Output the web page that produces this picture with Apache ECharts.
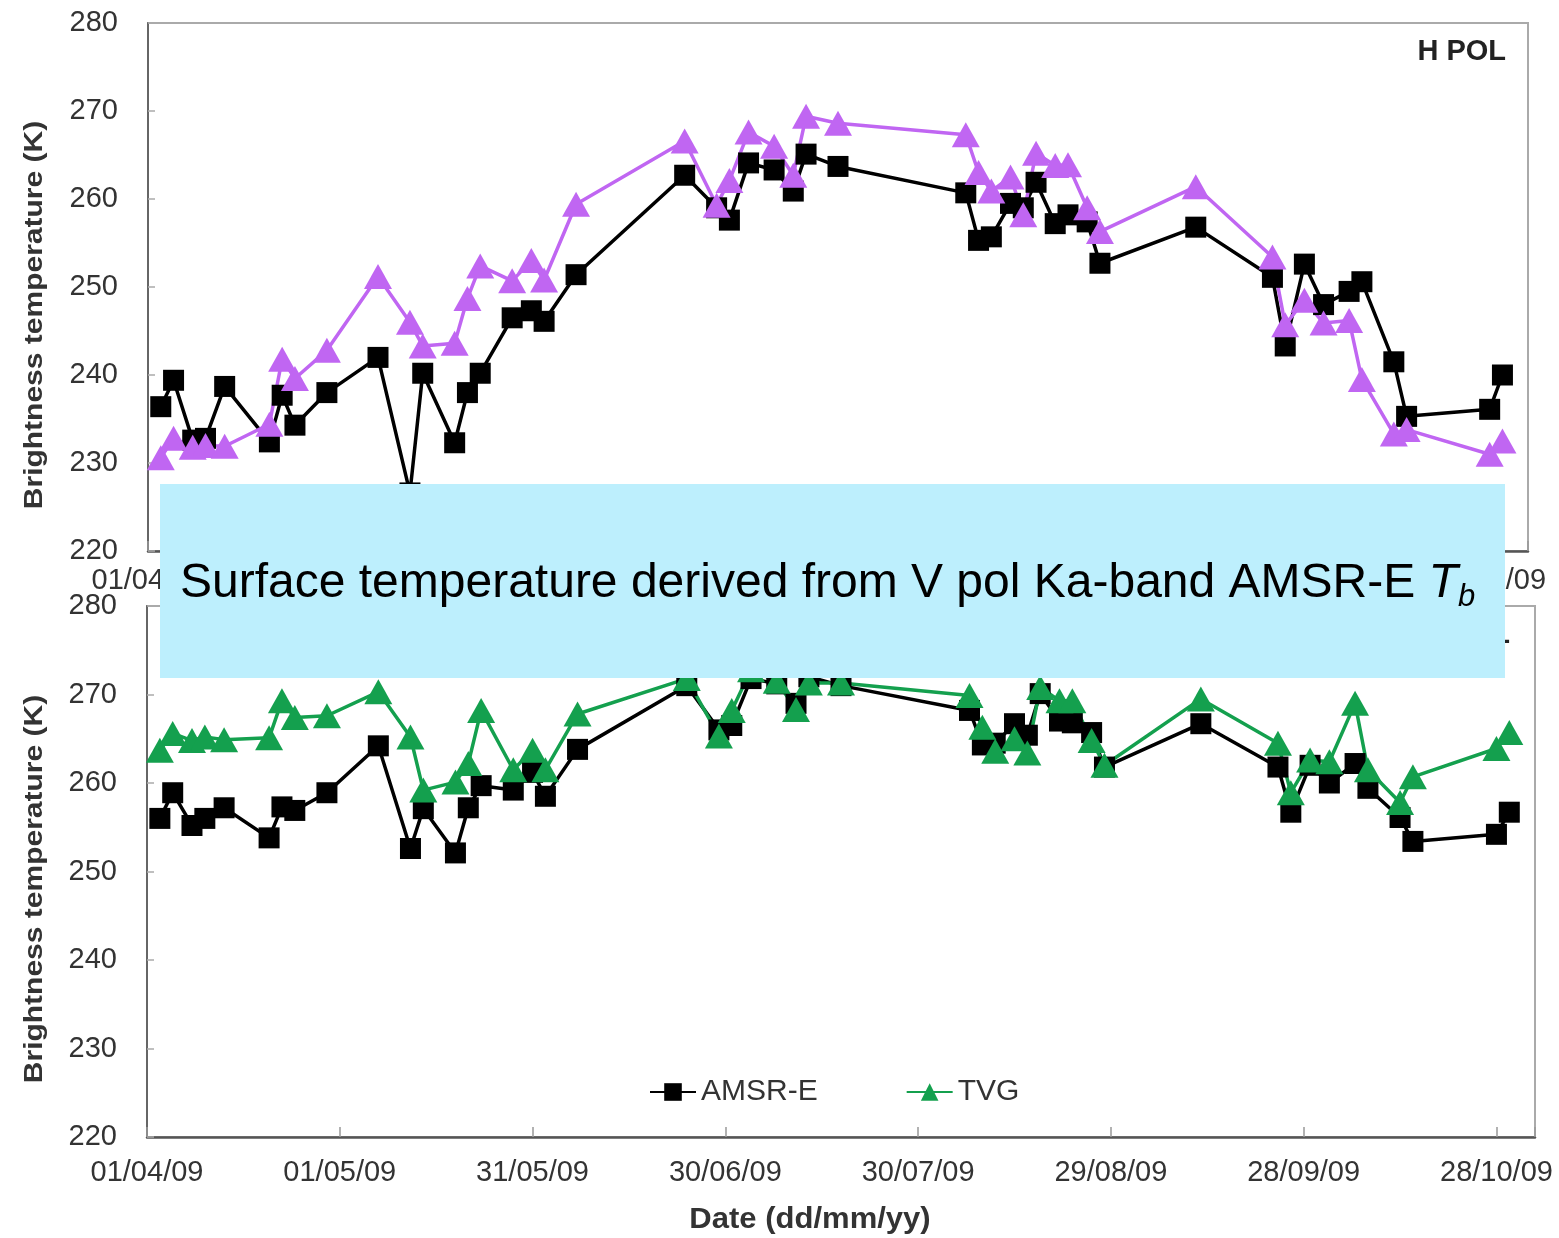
<!DOCTYPE html>
<html>
<head>
<meta charset="utf-8">
<script src="https://cdn.jsdelivr.net/npm/echarts@6/dist/echarts.min.js"></script>
<style>
  html, body { margin: 0; padding: 0; background: #ffffff; }
  #chart { width: 1559px; height: 1238px; }
</style>
</head>
<body>
<div id="chart"></div>
<script>
// Observation dates (AMSR-E overpasses, 2009)
const dates = [
  '2009-04-03','2009-04-05','2009-04-08','2009-04-10','2009-04-13','2009-04-20','2009-04-22','2009-04-24','2009-04-29',
  '2009-05-07','2009-05-12','2009-05-14','2009-05-19','2009-05-21','2009-05-23','2009-05-28','2009-05-31',
  '2009-06-02','2009-06-07','2009-06-24','2009-06-29',
  '2009-07-01','2009-07-04','2009-07-08','2009-07-11','2009-07-13','2009-07-18',
  '2009-08-07','2009-08-09','2009-08-11','2009-08-14','2009-08-16','2009-08-18','2009-08-21','2009-08-23','2009-08-26','2009-08-28',
  '2009-09-12','2009-09-24','2009-09-26','2009-09-29',
  '2009-10-02','2009-10-06','2009-10-08','2009-10-13','2009-10-15','2009-10-28','2009-10-30'
];

// H polarisation brightness temperature (K)
const hAmsr = [
  236.4, 239.4, 232.6, 232.8, 238.7, 232.4, 237.7, 234.3, 238.0,
  242.0, 226.6, 240.2, 232.3, 238.0, 240.2, 246.5, 247.3,
  246.1, 251.4, 262.7, 259.0,
  257.6, 264.1, 263.3, 260.9, 265.1, 263.7,
  260.7, 255.3, 255.7, 259.5, 259.0, 261.9, 257.2, 258.2, 257.4, 252.7,
  256.8, 251.1, 243.3, 252.6,
  248.0, 249.5, 250.6, 241.5, 235.3, 236.1, 240.0
];
const hTvg = [
  230.6, 232.8, 231.8, 232.0, 231.9, 234.4, 241.8, 239.6, 242.8,
  251.2, 246.0, 243.3, 243.6, 248.7, 252.4, 250.7, 253.0,
  250.8, 259.4, 266.6, 259.3,
  262.1, 267.6, 266.0, 262.7, 269.4, 268.6,
  267.3, 263.0, 260.9, 262.5, 258.2, 265.2, 263.8, 263.9, 259.0, 256.3,
  261.4, 253.4, 245.7, 248.5,
  245.9, 246.2, 239.5, 233.3, 233.8, 231.0, 232.5
];

// V polarisation brightness temperature (K)
const vAmsr = [
  256.0, 258.9, 255.2, 256.0, 257.2, 253.8, 257.3, 256.9, 258.9,
  264.2, 252.6, 257.1, 252.1, 257.2, 259.7, 259.2, 261.2,
  258.5, 263.8, 271.0, 266.0,
  266.5, 271.8, 271.2, 269.0, 272.0, 271.0,
  268.2, 264.3, 264.5, 266.7, 265.4, 270.1, 267.0, 266.8, 265.7, 261.8,
  266.7, 261.8, 256.7, 262.0,
  260.0, 262.2, 259.4, 256.1, 253.4, 254.2, 256.7
];
const vTvg = [
  263.7, 265.6, 264.8, 265.2, 264.9, 265.1, 269.3, 267.4, 267.6,
  270.3, 265.2, 259.2, 260.1, 262.2, 268.2, 261.5, 263.7,
  261.5, 267.8, 271.8, 265.3,
  268.2, 272.8, 271.5, 268.3, 271.3, 271.3,
  269.9, 266.3, 263.6, 265.0, 263.4, 270.8, 269.3, 269.3, 264.8, 262.0,
  269.5, 264.5, 258.9, 262.6,
  262.4, 269.0, 261.5, 257.8, 260.7, 263.9, 265.7
];

// Date axis tick labels, one every 30 days from 01/04/09
const xTickLabels = ['01/04/09','01/05/09','31/05/09','30/06/09','30/07/09','29/08/09','28/09/09','28/10/09'];

// x positions are days since 1 April 2009
const origin = Date.UTC(2009, 3, 1);
const dayOf = s => (Date.UTC(+s.slice(0, 4), +s.slice(5, 7) - 1, +s.slice(8, 10)) - origin) / 86400000;
const pairs = vals => dates.map((d, i) => [dayOf(d), vals[i]]);

const BLACK = '#000000';
const PURPLE = '#c066f2';
const GREEN = '#14a04e';
const FONT = 'Arial, "Liberation Sans", sans-serif';

function xAxis(gridIndex, margin) {
  return {
    type: 'value', gridIndex, min: 0, max: 216, interval: 30,
    axisLine: { show: true, onZero: false, lineStyle: { color: '#555', width: 2.5 } },
    axisTick: { show: true, inside: true, length: 10, lineStyle: { color: '#999', width: 1.5 } },
    axisLabel: {
      fontSize: 29, fontFamily: FONT, color: '#333', margin,
      formatter: v => (v % 30 === 0 ? xTickLabels[v / 30] : '')
    },
    splitLine: { show: false }
  };
}
function yAxis(gridIndex) {
  return {
    type: 'value', gridIndex, min: 220, max: 280, interval: 10,
    axisLine: { show: true, lineStyle: { color: '#666', width: 2 } },
    axisTick: { show: true, inside: true, length: 7, lineStyle: { color: '#aaa', width: 1.5 } },
    axisLabel: { fontSize: 29, fontFamily: FONT, color: '#333', margin: 30 },
    splitLine: { show: false }
  };
}
function lineSeries(name, idx, vals, color, symbol, size) {
  return {
    name, type: 'line', xAxisIndex: idx, yAxisIndex: idx,
    data: pairs(vals),
    symbol, symbolSize: size, showAllSymbol: true,
    itemStyle: { color },
    lineStyle: { color, width: 3.5 },
    emphasis: { disabled: true }
  };
}

const chart = echarts.init(document.getElementById('chart'), null, { renderer: 'canvas' });
chart.setOption({
  animation: false,
  backgroundColor: '#ffffff',
  grid: [
    { left: 148, top: 23, width: 1380, height: 528, show: true, borderColor: '#aaa', borderWidth: 2 },
    { left: 147, top: 606, width: 1388, height: 531, show: true, borderColor: '#aaa', borderWidth: 2 }
  ],
  xAxis: [xAxis(0, 15), xAxis(1, 21)],
  yAxis: [yAxis(0), yAxis(1)],
  legend: {
    data: ['AMSR-E', 'TVG'],
    left: 644, top: 1072,
    itemWidth: 46, itemHeight: 22, itemGap: 88,
    textStyle: { fontSize: 30, fontFamily: FONT, color: '#333' }
  },
  series: [
    lineSeries('AMSR-E H POL', 0, hAmsr, BLACK, 'rect', 21),
    lineSeries('TVG H POL', 0, hTvg, PURPLE, 'triangle', [28, 25]),
    lineSeries('AMSR-E', 1, vAmsr, BLACK, 'rect', 21),
    lineSeries('TVG', 1, vTvg, GREEN, 'triangle', [28, 25])
  ],
  graphic: [
    {
      type: 'text', x: 1506, y: 52, z: 50,
      style: { text: 'H POL', font: 'bold 29px ' + FONT, fill: '#222', align: 'right', verticalAlign: 'middle' }
    },
    {
      type: 'text', x: 1510, y: 635, z: 50,
      style: { text: 'V POL', font: 'bold 29px ' + FONT, fill: '#222', align: 'right', verticalAlign: 'middle' }
    },
    {
      type: 'text', x: 35, y: 315, rotation: Math.PI / 2, scaleX: 1.2, z: 50,
      style: { text: 'Brightness temperature (K)', font: 'bold 25px ' + FONT, fill: '#333', align: 'center', verticalAlign: 'middle' }
    },
    {
      type: 'text', x: 35, y: 889, rotation: Math.PI / 2, scaleX: 1.2, z: 50,
      style: { text: 'Brightness temperature (K)', font: 'bold 25px ' + FONT, fill: '#333', align: 'center', verticalAlign: 'middle' }
    },
    {
      type: 'text', x: 810, y: 1220, scaleX: 1.07, z: 50,
      style: { text: 'Date (dd/mm/yy)', font: 'bold 29px ' + FONT, fill: '#333', align: 'center', verticalAlign: 'middle' }
    },
    {
      type: 'rect', z: 100,
      shape: { x: 160, y: 484, width: 1345, height: 194 },
      style: { fill: '#bdeffd' }
    },
    {
      type: 'text', x: 180, y: 584, z: 101,
      style: {
        text: '{n|Surface temperature derived from V pol Ka-band AMSR-E }{t|T}{s|b}',
        verticalAlign: 'middle', align: 'left',
        rich: {
          n: { fontSize: 48, fontFamily: FONT, fill: '#000', lineHeight: 58 },
          t: { fontSize: 48, fontFamily: FONT, fontStyle: 'italic', fill: '#000', lineHeight: 58 },
          s: { fontSize: 31, fontFamily: FONT, fontStyle: 'italic', fill: '#000', lineHeight: 30, verticalAlign: 'bottom' }
        }
      }
    }
  ]
});
</script>
</body>
</html>
